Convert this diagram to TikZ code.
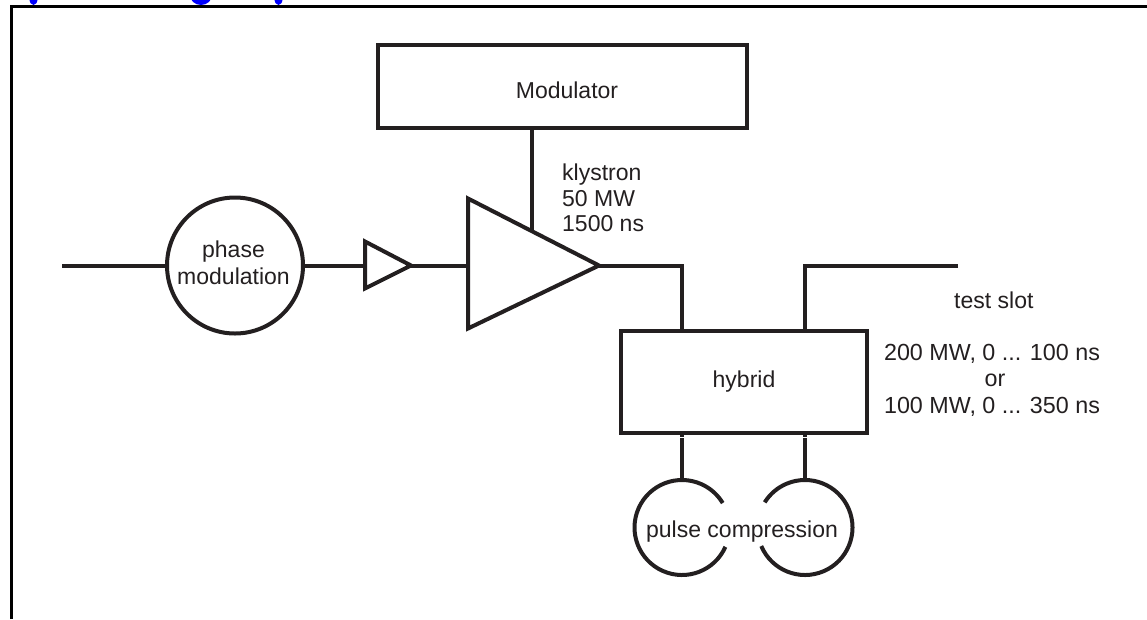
\documentclass[tikz,border=0pt]{standalone}
\usepackage{fontspec}
\setmainfont{Liberation Sans}
\definecolor{ink}{HTML}{231F20}
\definecolor{titleblue}{HTML}{0000FF}
\tikzset{
  wire/.style={draw=ink,line width=4pt},
  boxnode/.style={draw=ink,line width=4pt,rectangle,inner sep=0pt},
  roundnode/.style={draw=ink,line width=4pt,circle,inner sep=0pt},
  amp/.style={draw=ink,line width=4pt,line join=miter,fill=white},
  txt/.style={inner sep=0pt,text=ink,font=\fontsize{23}{26.5}\selectfont},
  note/.style={txt,align=left,anchor=west},
  frameline/.style={draw=black,line width=3pt},
}
\begin{document}
\begin{tikzpicture}[x=1pt,y=-1pt]
\useasboundingbox (0,0) rectangle (1147,619);
% clipped title fragments at the top edge
\begin{scope}
\clip (0,0) rectangle (1147,6);
\fill[titleblue] (33.5,-1) ellipse (4 and 6);
\fill[titleblue] (201,-5) ellipse (11 and 10);
\fill[titleblue] (278.5,-1) ellipse (4 and 6);
\end{scope}
% frame
\coordinate (frameBL) at (11,619);
\coordinate (frameTL) at (11,6.5);
\coordinate (frameTR) at (1147,6.5);
\draw[frameline] (frameBL) -- (frameTL) -- (frameTR);
% nodes
\node[boxnode,minimum width=369pt,minimum height=83pt] (mod) at (562,86.5) {};
\node[txt] (modT) at (567,90) {Modulator};
\node[boxnode,minimum width=246pt,minimum height=102pt] (hyb) at (744,382) {};
\node[txt] (hybT) at (744,382) {hybrid};
\node[roundnode,minimum size=136pt] (phase) at (235,265.5) {};
\node[txt,align=center] (phaseT) at (233.5,263) {phase\\modulation};
% amplifiers
\coordinate (smallL) at (365,265.5);
\coordinate (smallR) at (411,265.5);
\coordinate (bigL) at (468,265.5);
\coordinate (bigR) at (599,265.5);
\coordinate (bigTop) at (531.5,231);
\draw[amp] (365,241.5) -- (411,265.5) -- (365,288.5) -- cycle;
\draw[amp] (468,198.5) -- (599,265.5) -- (468,328.5) -- cycle;
% connectors
\coordinate (inL) at (62,265.5);
\coordinate (outR) at (958,265.5);
\draw[wire] (inL) -- (phase.west);
\draw[wire] (phase.east) -- (smallL);
\draw[wire] (smallR) -- (bigL);
\draw[wire] (mod.south -| bigTop) -- (bigTop);
\coordinate (hybA) at (682,331);
\coordinate (hybB) at (805,331);
\draw[wire] (bigR) -| (hybA);
\draw[wire] (outR) -| (hybB);
% pulse compression
\coordinate (pcL) at (682,527.5);
\coordinate (pcR) at (805,527.5);
\coordinate (hybC) at (682,433);
\coordinate (hybD) at (805,433);
\coordinate (pcLtop) at (682,480);
\coordinate (pcRtop) at (805,480);
\draw[wire] (hybC) -- (pcLtop);
\draw[wire] (hybD) -- (pcRtop);
\fill[white] (679,436.5) rectangle (685,438);
\fill[white] (802,436.5) rectangle (808,438);
\draw[wire] (pcL) ++(24:47.5) arc[start angle=24,end angle=329,radius=47.5];
\draw[wire] (pcR) ++(157:47.5) arc[start angle=157,end angle=-148,radius=47.5];
\node[txt] (pc) at (742,532) {pulse compression};
% notes
\node[note,font=\fontsize{23}{25.5}\selectfont] (kly) at (562,198) {klystron\\50 MW\\1500 ns};
\node[note] (slot) at (954,300) {test slot};
\node[txt,align=center,font=\fontsize{23.3}{26.5}\selectfont] (spec) at (992,380) {200 MW, 0 ... 100 ns\\\hspace*{6pt}or\\100 MW, 0 ... 350 ns};
\end{tikzpicture}
\end{document}
